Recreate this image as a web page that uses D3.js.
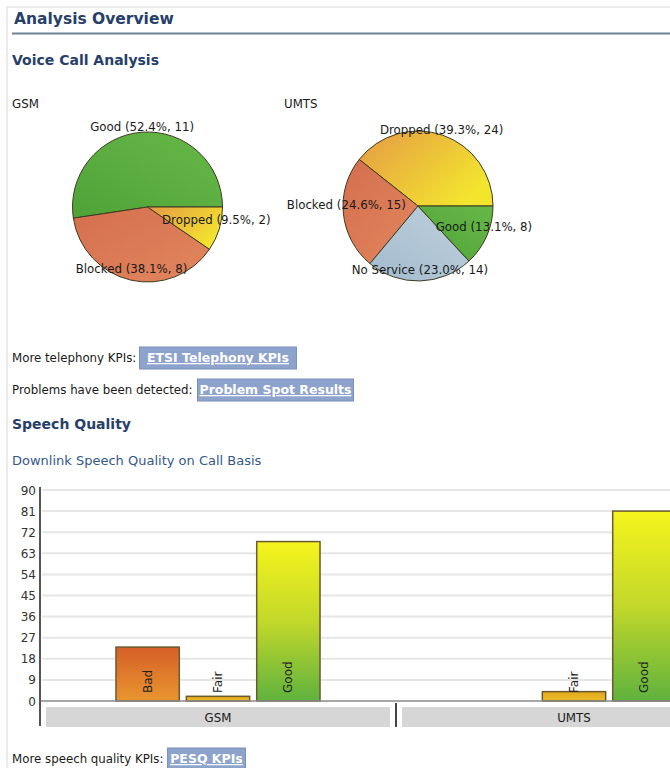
<!DOCTYPE html>
<html>
<head>
<meta charset="utf-8">
<script src="https://cdn.jsdelivr.net/npm/d3@7"></script>
<style>
  html, body { margin: 0; padding: 0; background: #fff; }
  svg { display: block; font-family: "DejaVu Sans", Verdana, sans-serif; }
  .head { fill: #27406a; font-weight: bold; }
  .small { font-size: 11.8px; fill: #1a1a1a; }
  .btn-box { fill: #8ea3cc; stroke: #7a90bd; }
  .btn-text { fill: #fff; font-weight: bold; font-size: 12.5px; text-decoration: underline; }
  .grid { stroke: #e6e6e6; stroke-width: 2; }
  .tick-label { font-size: 12px; fill: #333; text-anchor: end; }
</style>
</head>
<body>
<svg id="page" width="670" height="768"></svg>
<script>
// pie data
const gsmLabels = ["Good", "Blocked", "Dropped"];
const gsmCounts = [11, 8, 2];
const umtsLabels = ["Dropped", "Blocked", "No Service", "Good"];
const umtsCounts = [24, 15, 14, 8];

// bar data
const barCategories = ["GSM", "UMTS"];
const barSeries = ["Bad", "Fair", "Good"];
const gsmQuality = [23, 2, 68];
const umtsQuality = [0, 4, 81];
const yTicks = [0, 9, 18, 27, 36, 45, 54, 63, 72, 81, 90];

const svg = d3.select("#page");
const defs = svg.append("defs");

function addGradient(id, stops, dir) {
  const g = defs.append("linearGradient").attr("id", id)
    .attr("x1", dir[0]).attr("y1", dir[1]).attr("x2", dir[2]).attr("y2", dir[3]);
  stops.forEach((c, i) => g.append("stop")
    .attr("offset", (i / (stops.length - 1) * 100) + "%").attr("stop-color", c));
}

// slice fills
addGradient("pGood", ["#66b948", "#4fa236"], ["100%", "0%", "0%", "100%"]);
addGradient("pBlocked", ["#d46e4e", "#e2875e"], ["0%", "0%", "100%", "100%"]);
addGradient("pDropped", ["#e59a45", "#f3e52e"], ["0%", "0%", "100%", "60%"]);
addGradient("pNoService", ["#a3bccf", "#bfcfdb"], ["0%", "100%", "100%", "0%"]);
// bar fills
addGradient("bBad", ["#d65f28", "#e9962f"], ["0%", "0%", "0%", "100%"]);
addGradient("bFair", ["#e2a81e", "#ebbd26"], ["0%", "0%", "0%", "100%"]);
addGradient("bGood", ["#f6f41c", "#c2d82a", "#5fb23e"], ["0%", "0%", "0%", "100%"]);

const sliceFill = { "Good": "url(#pGood)", "Blocked": "url(#pBlocked)", "Dropped": "url(#pDropped)", "No Service": "url(#pNoService)" };
const barFill = { "Bad": "url(#bBad)", "Fair": "url(#bFair)", "Good": "url(#bGood)" };

// page frame
svg.append("line").attr("x1", 7).attr("x2", 7).attr("y1", 7).attr("y2", 768).attr("stroke", "#d8d8d8");
svg.append("line").attr("x1", 7).attr("x2", 670).attr("y1", 7).attr("y2", 7).attr("stroke", "#d8d8d8");

svg.append("text").attr("class", "head").attr("x", 14).attr("y", 24)
  .style("font-size", "15.5px").text("Analysis Overview");
svg.append("line").attr("x1", 12).attr("x2", 670).attr("y1", 33.5).attr("y2", 33.5)
  .attr("stroke", "#6d8297").attr("stroke-width", 2);
svg.append("text").attr("class", "head").attr("x", 12).attr("y", 65)
  .style("font-size", "14px").text("Voice Call Analysis");

// pies
function drawPie(title, labels, counts, cx, cy, titleX) {
  svg.append("text").attr("class", "small").attr("x", titleX).attr("y", 108).text(title);
  const total = d3.sum(counts);
  const rows = labels.map((l, i) => ({ label: l, count: counts[i] }));
  const pie = d3.pie().value((d) => d.count).sort(null)
    .startAngle(Math.PI / 2).endAngle(Math.PI / 2 - 2 * Math.PI);
  const r = 75;
  const arc = d3.arc().innerRadius(0).outerRadius(r);
  const g = svg.append("g").attr("transform", `translate(${cx},${cy})`);
  const arcs = pie(rows);
  g.selectAll("path").data(arcs).join("path")
    .attr("d", arc)
    .attr("fill", (d) => sliceFill[d.data.label])
    .attr("stroke", "#3e3a22").attr("stroke-width", 1);
  g.selectAll("text").data(arcs).join("text")
    .attr("class", "small")
    .attr("text-anchor", "middle")
    .attr("x", (d) => 72 * Math.sin((d.startAngle + d.endAngle) / 2))
    .attr("y", (d) => -72 * Math.cos((d.startAngle + d.endAngle) / 2) - 4)
    .text((d) => `${d.data.label} (${d3.format(".1f")(d.data.count / total * 100)}%, ${d.data.count})`);
}
drawPie("GSM", gsmLabels, gsmCounts, 147.5, 207, 12);
drawPie("UMTS", umtsLabels, umtsCounts, 418, 206, 284);

// link lines
function linkLine(label, button, y, bx, bw) {
  svg.append("text").attr("class", "small").attr("x", 12).attr("y", y).text(label);
  svg.append("rect").attr("class", "btn-box").attr("x", bx).attr("y", y - 15)
    .attr("width", bw).attr("height", 22);
  svg.append("text").attr("class", "btn-text").attr("x", bx + bw / 2).attr("y", y)
    .attr("text-anchor", "middle").text(button);
}
linkLine("More telephony KPIs:", "ETSI Telephony KPIs", 362, 139.5, 157);
linkLine("Problems have been detected:", "Problem Spot Results", 394, 197.5, 156);

svg.append("text").attr("class", "head").attr("x", 12).attr("y", 429)
  .style("font-size", "14px").text("Speech Quality");
svg.append("text").attr("x", 12).attr("y", 465).attr("fill", "#34598a")
  .style("font-size", "13px").text("Downlink Speech Quality on Call Basis");

// bar chart
const bandW = 356;
const x = d3.scaleBand().domain(barCategories).range([40, 40 + bandW * barCategories.length]);
const xs = d3.scaleBand().domain(barSeries).range([0, bandW]).paddingInner(0.1).paddingOuter(1.08);
const y = d3.scaleLinear().domain([0, 90]).range([701, 490]);

const chart = svg.append("g");
chart.selectAll(".grid").data(yTicks.filter((t) => t > 0)).join("line")
  .attr("class", "grid").attr("x1", 42).attr("x2", 670)
  .attr("y1", (d) => y(d)).attr("y2", (d) => y(d));
chart.selectAll(".tick-label").data(yTicks).join("text")
  .attr("class", "tick-label").attr("x", 36).attr("y", (d) => y(d) + 4.5).text((d) => d);

const values = { GSM: gsmQuality, UMTS: umtsQuality };
const bars = [];
barCategories.forEach((c) => barSeries.forEach((s, i) => {
  if (values[c][i] > 0) bars.push({ cat: c, series: s, value: values[c][i] });
}));

chart.selectAll(".bar").data(bars).join("rect")
  .attr("class", "bar")
  .attr("x", (d) => x(d.cat) + xs(d.series))
  .attr("width", xs.bandwidth())
  .attr("y", (d) => y(d.value))
  .attr("height", (d) => y(0) - y(d.value))
  .attr("fill", (d) => barFill[d.series])
  .attr("stroke", "#6a5a2e").attr("stroke-width", 1.5);

chart.selectAll(".bar-label").data(bars).join("text")
  .attr("class", "bar-label")
  .attr("transform", (d) => `translate(${x(d.cat) + xs(d.series) + xs.bandwidth() / 2 + 4},693) rotate(-90)`)
  .attr("fill", "#222").style("font-size", "12px")
  .text((d) => d.series);

chart.append("line").attr("x1", 40).attr("x2", 670).attr("y1", y(0)).attr("y2", y(0))
  .attr("stroke", "#8a8a8a").attr("stroke-width", 1.5);

// category strip
chart.selectAll(".cat-box").data(barCategories).join("rect")
  .attr("class", "cat-box")
  .attr("x", (d) => x(d) + 6).attr("width", x.bandwidth() - 12)
  .attr("y", 707).attr("height", 20).attr("fill", "#d6d6d6");
chart.selectAll(".cat-label").data(barCategories).join("text")
  .attr("class", "cat-label small").attr("text-anchor", "middle")
  .attr("x", (d) => x(d) + x.bandwidth() / 2).attr("y", 722).text((d) => d);
chart.selectAll(".cat-sep").data(barCategories.slice(1)).join("line")
  .attr("x1", (d) => x(d)).attr("x2", (d) => x(d)).attr("y1", 703).attr("y2", 727)
  .attr("stroke", "#444").attr("stroke-width", 2);
chart.append("line").attr("x1", 40).attr("x2", 40).attr("y1", 487).attr("y2", 726)
  .attr("stroke", "#555").attr("stroke-width", 2);

linkLine("More speech quality KPIs:", "PESQ KPIs", 763, 167.5, 78);
</script>
</body>
</html>
